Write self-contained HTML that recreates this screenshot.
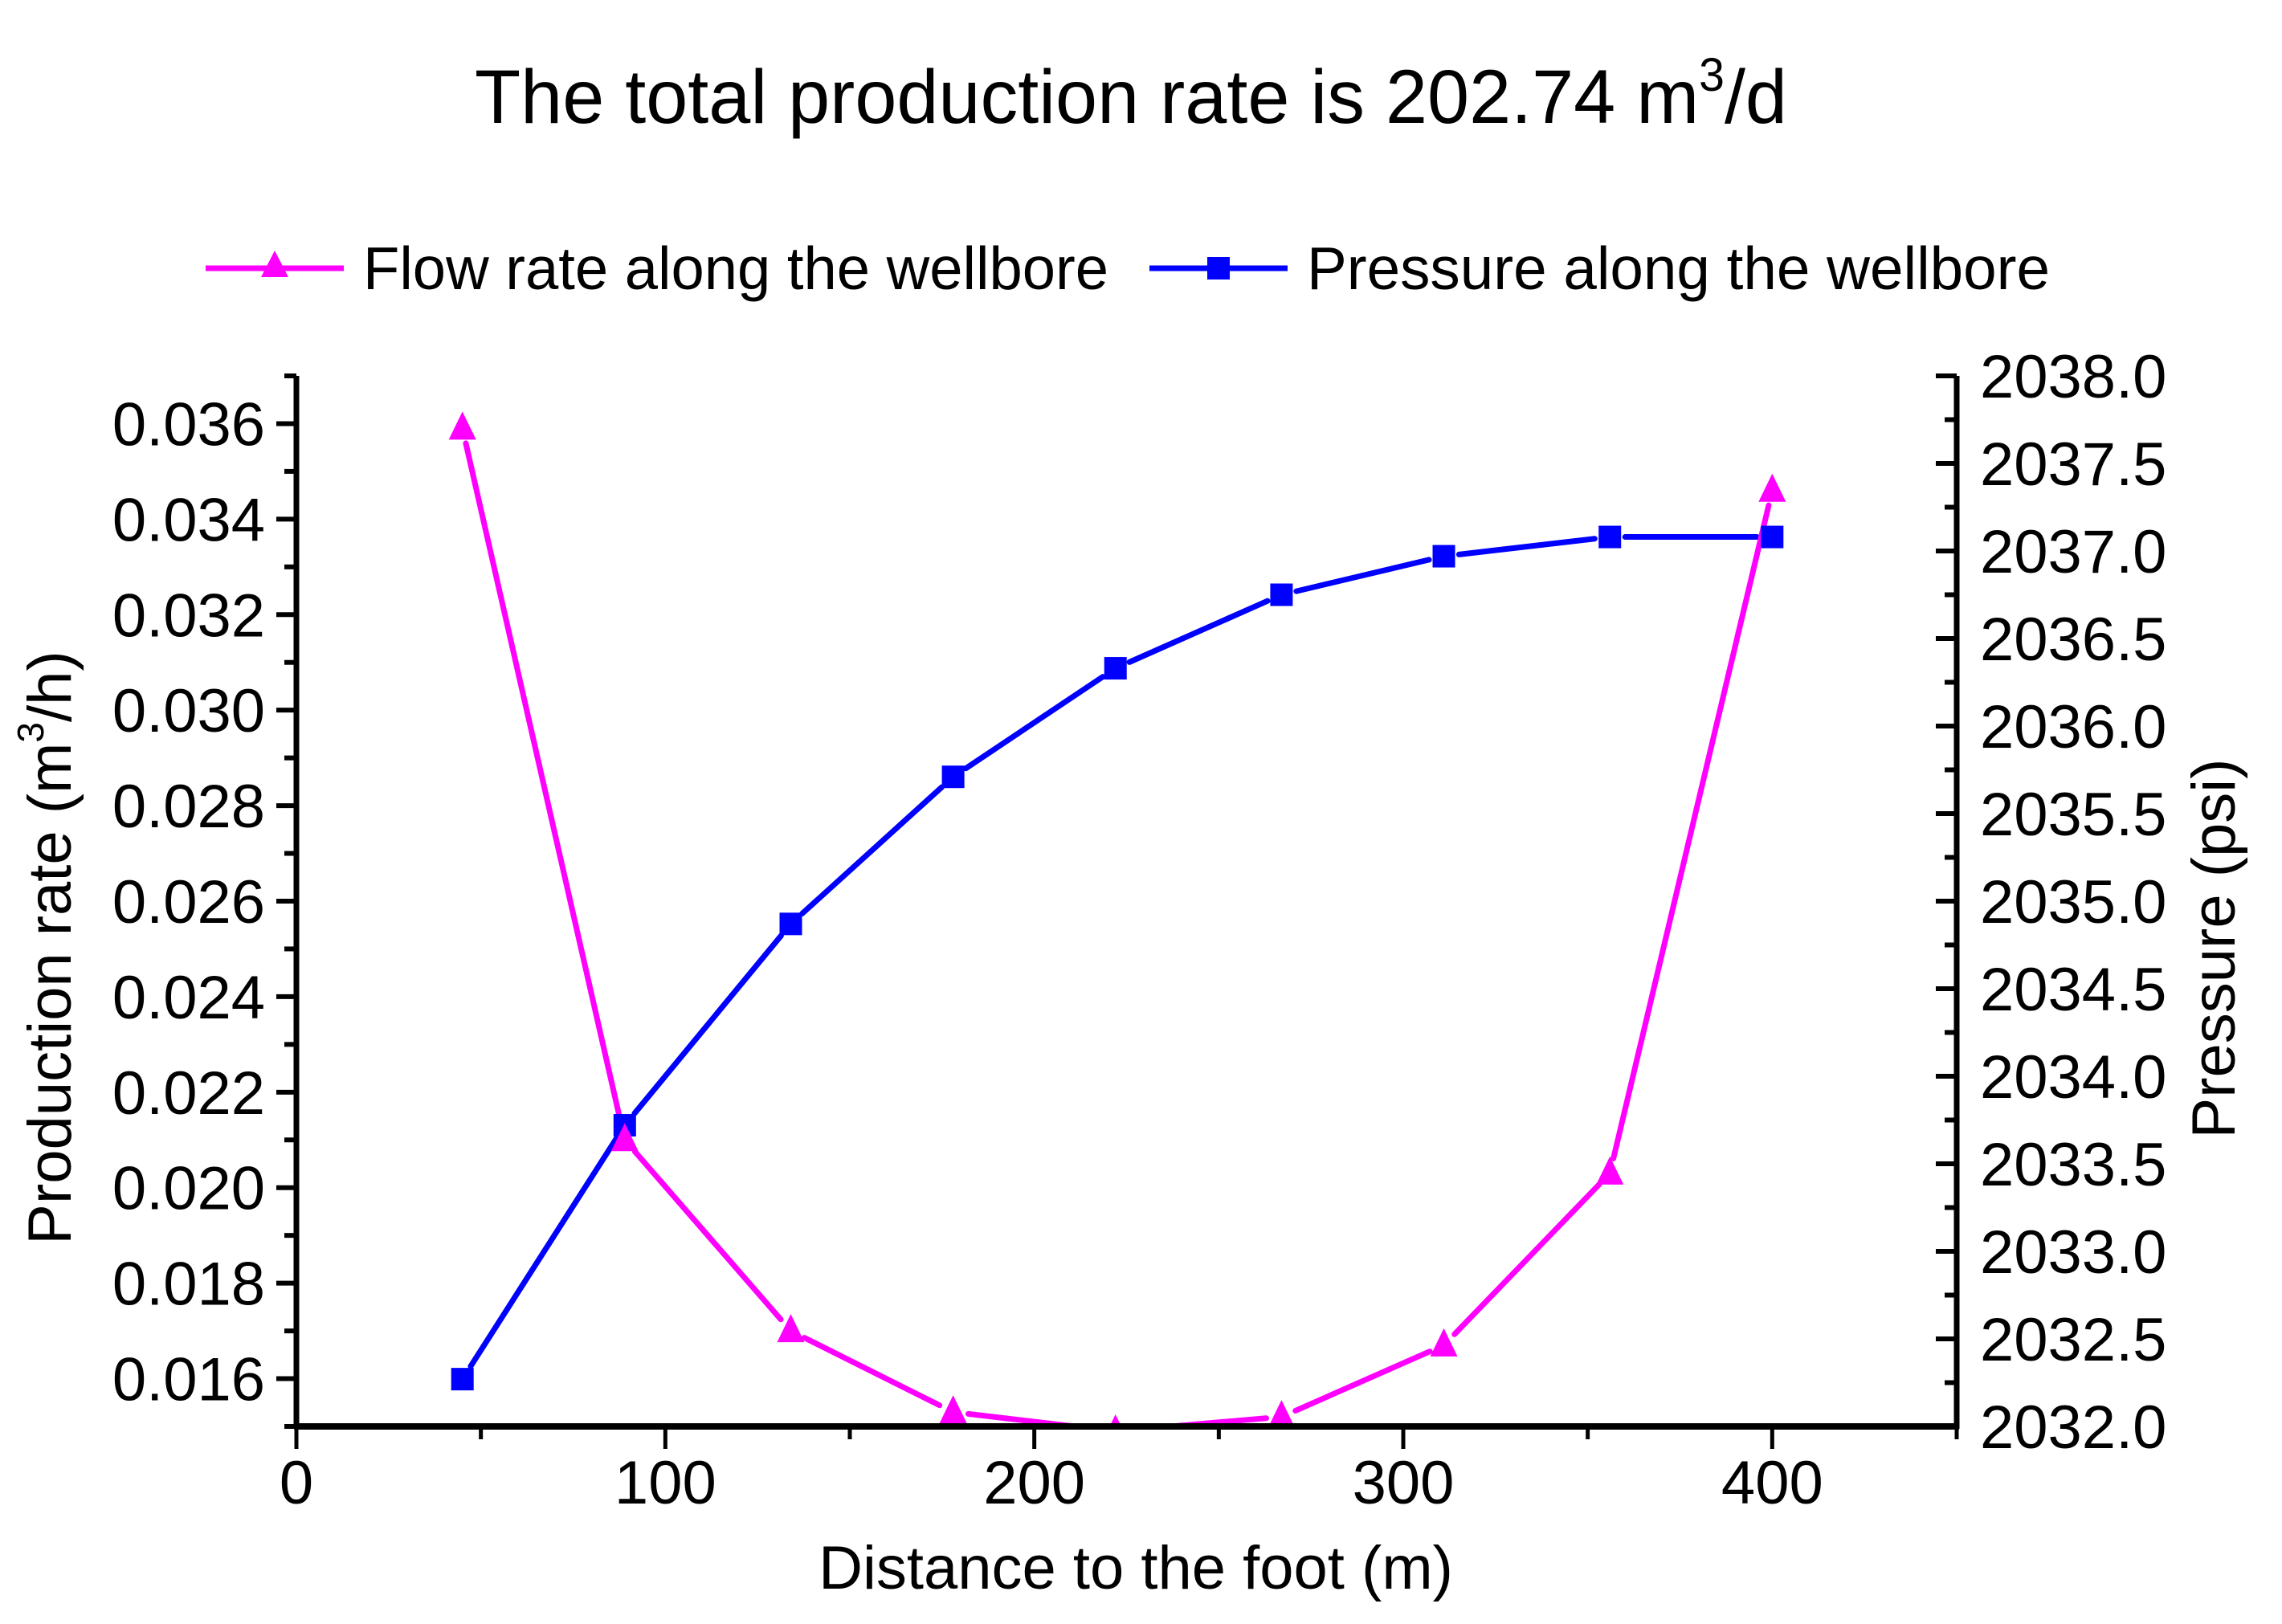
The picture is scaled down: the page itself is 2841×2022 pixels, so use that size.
<!DOCTYPE html>
<html><head><meta charset="utf-8"><style>
html,body{margin:0;padding:0;background:#fff}
svg{display:block}
text{font-family:"Liberation Sans",Arial,sans-serif;fill:#000}
</style></head><body>
<svg id="chart" width="2841" height="2022" viewBox="0 0 2841 2022" xmlns="http://www.w3.org/2000/svg">
<defs><clipPath id="plotclip"><rect x="0" y="0" width="2841" height="1776"/></clipPath></defs>
<text x="591" y="153" font-size="95" textLength="1634" lengthAdjust="spacingAndGlyphs">The total production rate is 202.74 m<tspan font-size="58" dy="-40">3</tspan><tspan dy="40">/d</tspan></text>
<g>
 <g>
  <line x1="256" y1="334" x2="428" y2="334" stroke="#ff00ff" stroke-width="7"/>
  <polygon points="342,312 325,345 359,345" fill="#ff00ff"/>
  <text x="452" y="360" font-size="75" textLength="928" lengthAdjust="spacingAndGlyphs">Flow rate along the wellbore</text>
 </g>
 <g>
  <line x1="1431" y1="334" x2="1603" y2="334" stroke="#0000ff" stroke-width="7"/>
  <rect x="1503" y="320" width="28" height="28" fill="#0000ff"/>
  <text x="1627" y="360" font-size="75" textLength="925" lengthAdjust="spacingAndGlyphs">Pressure along the wellbore</text>
 </g>
</g>
<g id="axes"></g>
<g id="series" clip-path="url(#plotclip)"></g>
<g id="overlay"></g>
<text x="1414" y="1978" font-size="76" text-anchor="middle">Distance to the foot (m)</text>
<text transform="translate(88,1180) rotate(-90)" font-size="76" text-anchor="middle">Production rate (m<tspan font-size="46" dy="-34">3</tspan><tspan dy="34">/h)</tspan></text>
<text transform="translate(2782,1181) rotate(-90)" font-size="76" text-anchor="middle">Pressure (psi)</text>
</svg>
<script>
const distance = [45, 89, 134, 178, 222, 267, 311, 356, 400];
const flowRate = [0.0359, 0.0210, 0.0170, 0.0153, 0.0149, 0.0152, 0.0167, 0.0203, 0.0346];
const pressure = [2032.27, 2033.72, 2034.87, 2035.71, 2036.33, 2036.75, 2036.97, 2037.08, 2037.08];
const xTicks = [0, 100, 200, 300, 400];
const leftTicks = [0.016, 0.018, 0.020, 0.022, 0.024, 0.026, 0.028, 0.030, 0.032, 0.034, 0.036];
const rightTicks = [2032, 2032.5, 2033, 2033.5, 2034, 2034.5, 2035, 2035.5, 2036, 2036.5, 2037, 2037.5, 2038];

const NS = "http://www.w3.org/2000/svg";
const L = 369, R = 2436, T = 468, B = 1776;
const xMin = 0, xMax = 450, yMin = 0.015, yMax = 0.037, pMin = 2032, pMax = 2038;
const sx = v => L + (v - xMin) / (xMax - xMin) * (R - L);
const sy = v => B - (v - yMin) / (yMax - yMin) * (B - T);
const sp = v => B - (v - pMin) / (pMax - pMin) * (B - T);
function mk(tag, attrs, parent) {
  const e = document.createElementNS(NS, tag);
  for (const k in attrs) e.setAttribute(k, attrs[k]);
  parent.appendChild(e);
  return e;
}
const axes = document.getElementById('axes');
const series = document.getElementById('series');
const overlay = document.getElementById('overlay');

const ax1 = mk('line', {x1: L, y1: T, x2: L, y2: B + 3, stroke: '#000', 'stroke-width': 7}, axes);


const ax3 = mk('line', {x1: R, y1: T, x2: R, y2: B + 3, stroke: '#000', 'stroke-width': 7}, axes);


mk('line', {x1: R - 26, y1: T, x2: R, y2: T, stroke: '#000', 'stroke-width': 6}, axes);

for (let v = 0; v <= 450; v += 50) {
  const major = v % 100 === 0;
  mk('line', {x1: sx(v), y1: B, x2: sx(v), y2: B + (major ? 28 : 16), stroke: '#000', 'stroke-width': 5}, axes);
}
xTicks.forEach(v => {
  const t = mk('text', {x: sx(v), y: 1872, 'font-size': 76, 'text-anchor': 'middle'}, axes);
  t.textContent = v;
  
  
});
for (let i = 0; i <= 22; i++) {
  const v = 0.015 + i * 0.001;
  const major = i % 2 === 1;
  mk('line', {x1: L, y1: sy(v), x2: L - (major ? 25 : 15), y2: sy(v), stroke: '#000', 'stroke-width': 6}, axes);
}
leftTicks.forEach(v => {
  const t = mk('text', {x: 330, y: sy(v) + 27, 'font-size': 76, 'text-anchor': 'end'}, axes);
  t.textContent = v.toFixed(3);
  
  
});
for (let i = 0; i <= 24; i++) {
  const v = 2032 + i * 0.25;
  const major = i % 2 === 0;
  mk('line', {x1: R, y1: sp(v), x2: R - (major ? 26 : 15), y2: sp(v), stroke: '#000', 'stroke-width': 6}, axes);
}
rightTicks.forEach(v => {
  const t = mk('text', {x: 2465, y: sp(v) + 27, 'font-size': 76}, axes);
  t.textContent = v.toFixed(1);
  
  
});

function drawLine(xs, ys, color, name) {
  const gap = 19;
  for (let i = 0; i < xs.length - 1; i++) {
    const x1 = xs[i], y1 = ys[i], x2 = xs[i + 1], y2 = ys[i + 1];
    const len = Math.hypot(x2 - x1, y2 - y1);
    if (len <= 2 * gap) continue;
    const ux = (x2 - x1) / len, uy = (y2 - y1) / len;
    const s = mk('line', {x1: x1 + ux * gap, y1: y1 + uy * gap, x2: x2 - ux * gap, y2: y2 - uy * gap, stroke: color, 'stroke-width': 7, 'stroke-linecap': 'round'}, series);
    
    
  }
}
const fx = distance.map(sx), fy = flowRate.map(sy), py = pressure.map(sp);
drawLine(fx, py, '#0000ff', 'pressure-line');
drawLine(fx, fy, '#ff00ff', 'flow-line');
distance.forEach((d, i) => {
  const r = mk('rect', {x: fx[i] - 14, y: py[i] - 14, width: 28, height: 28, fill: '#0000ff'}, series);
  
  
});
distance.forEach((d, i) => {
  const x = fx[i], y = fy[i];
  const p = mk('polygon', {points: `${x},${y - 21} ${x - 17},${y + 14} ${x + 17},${y + 14}`, fill: '#ff00ff'}, series);
  
  
});
const ax2 = mk('line', {x1: L - 3, y1: B, x2: R + 3, y2: B, stroke: '#000', 'stroke-width': 8}, overlay);


</script>
</body></html>
